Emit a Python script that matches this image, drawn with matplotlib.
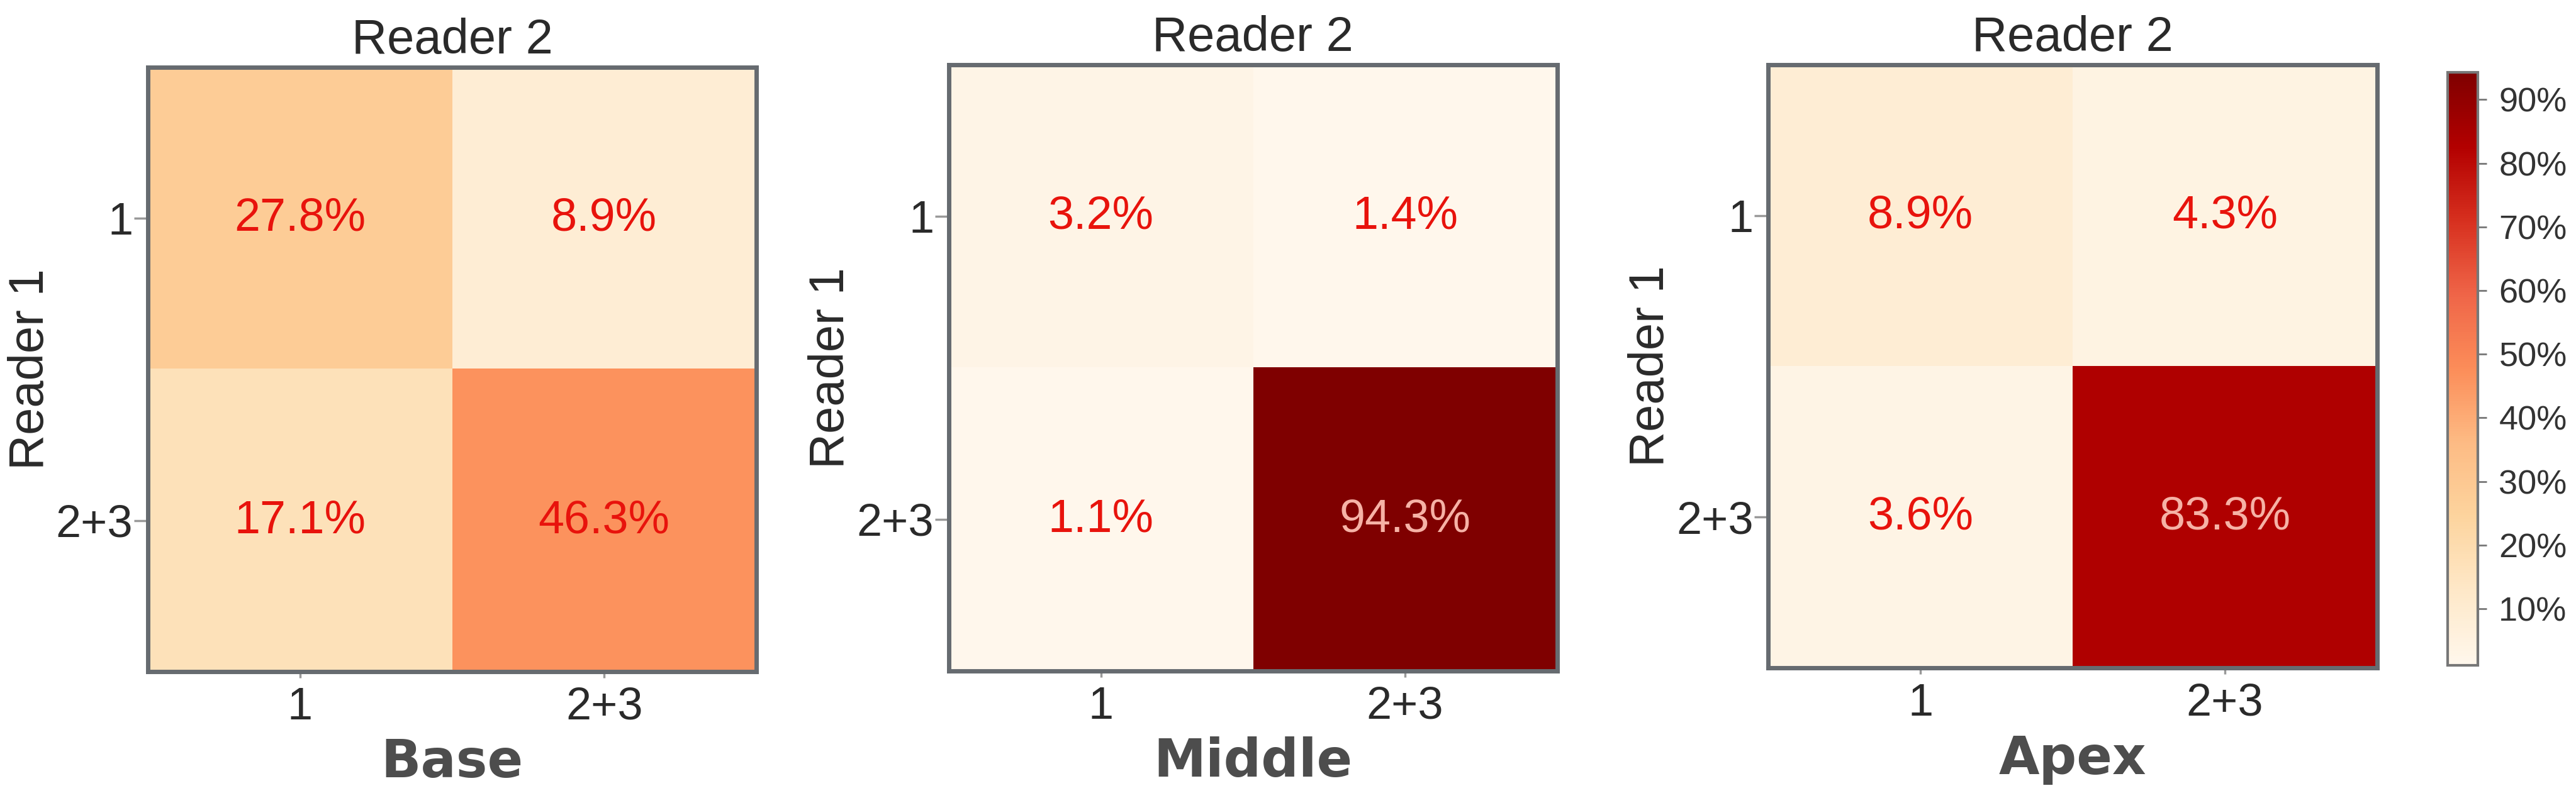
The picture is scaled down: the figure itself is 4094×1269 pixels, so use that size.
import matplotlib
matplotlib.use("Agg")
import matplotlib.pyplot as plt
import numpy as np
from matplotlib.colors import Normalize
from matplotlib.ticker import FuncFormatter

plt.rcParams['font.family'] = ['Liberation Sans', 'DejaVu Sans']

# Agreement matrices (percent), rows = Reader 1, cols = Reader 2
categories = ['1', '2+3']
regions = ['Base', 'Middle', 'Apex']
base = [[27.8, 8.9], [17.1, 46.3]]
middle = [[3.2, 1.4], [1.1, 94.3]]
apex = [[8.9, 4.3], [3.6, 83.3]]
cbar_ticks = [10, 20, 30, 40, 50, 60, 70, 80, 90]

matrices = [np.array(base), np.array(middle), np.array(apex)]
all_vals = np.concatenate([m.ravel() for m in matrices])
norm = Normalize(vmin=all_vals.min(), vmax=all_vals.max())
cmap = plt.get_cmap('OrRd')

fig = plt.figure(figsize=(40.94, 12.69), dpi=100)

# axes rectangles in figure fraction
rects = [
    [0.0574, 0.1584, 0.2362, 0.7573],
    [0.3683, 0.1592, 0.2362, 0.7596],
    [0.6864, 0.1631, 0.2364, 0.7557],
]

spine_color = '#666b70'
text_dark = '#2a2a2a'

im = None
for rect, mat, region in zip(rects, matrices, regions):
    ax = fig.add_axes(rect)
    im = ax.imshow(mat, cmap=cmap, norm=norm, aspect='auto')
    for i in range(mat.shape[0]):
        for j in range(mat.shape[1]):
            v = mat[i, j]
            color = '#f6b2a6' if v > 70 else '#e8130c'
            ax.text(j, i, f'{v:.1f}%', ha='center', va='center',
                    fontsize=53, color=color)
    ax.set_xticks(range(len(categories)))
    ax.set_xticklabels(categories)
    ax.set_yticks(range(len(categories)))
    ax.set_yticklabels(categories)
    ax.tick_params(axis='x', length=7, width=2.5, color='#999999',
                   labelsize=52, labelcolor=text_dark, pad=10)
    ax.tick_params(axis='y', length=16, width=2.5, color='#999999',
                   labelsize=52, labelcolor=text_dark, pad=1)
    for s in ax.spines.values():
        s.set_color(spine_color)
        s.set_linewidth(5)
    ax.set_title('Reader 2', fontsize=56, color=text_dark, pad=16)
    ax.set_ylabel('Reader 1', fontsize=56, color=text_dark, labelpad=3)
    ax.set_xlabel(region, fontsize=60, fontweight='heavy',
                  family='DejaVu Sans', color='#4d4d4d', labelpad=10)

cax = fig.add_axes([0.9502, 0.1663, 0.0117, 0.7431])
cb = fig.colorbar(im, cax=cax, ticks=cbar_ticks,
                  format=FuncFormatter(lambda x, p: f'{x:.0f}%'))
cb.outline.set_edgecolor('#777777')
cb.outline.set_linewidth(3)
cax.tick_params(length=10, width=2, color='#777777', labelsize=39,
                labelcolor='#333333', pad=14)

fig.savefig('out.png', dpi=100)
